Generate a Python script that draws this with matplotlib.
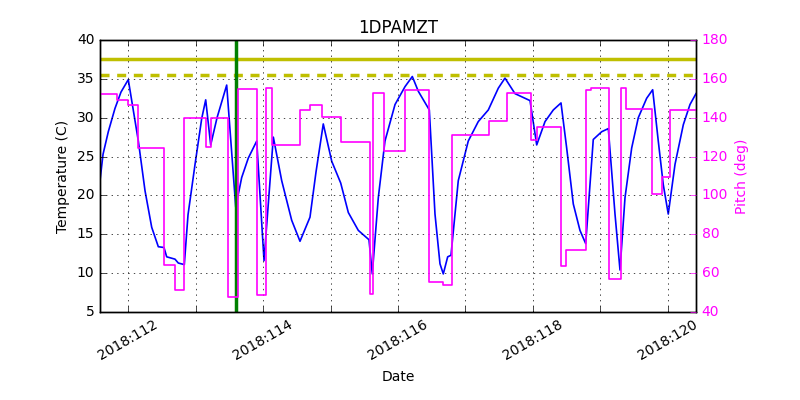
import matplotlib
matplotlib.use('Agg')
import matplotlib.pyplot as plt
from matplotlib.ticker import FixedLocator, FuncFormatter

# temperature samples (day of year 2018, deg C)
temp_days = [111.585, 111.630, 111.708, 111.807, 111.896, 112.004, 112.153, 112.252,
             112.351, 112.449, 112.533, 112.573, 112.696, 112.745, 112.834, 112.889,
             112.993, 113.092, 113.151, 113.225, 113.319, 113.462, 113.596, 113.684,
             113.782, 113.907, 114.015, 114.153, 114.277, 114.425, 114.548, 114.696,
             114.785, 114.893, 115.018, 115.151, 115.264, 115.412, 115.570, 115.619,
             115.708, 115.807, 115.956, 116.104, 116.212, 116.301, 116.464, 116.548,
             116.622, 116.671, 116.736, 116.785, 116.893, 117.041, 117.189, 117.338,
             117.486, 117.585, 117.733, 117.956, 118.055, 118.178, 118.301, 118.415,
             118.499, 118.597, 118.696, 118.781, 118.893, 119.018, 119.116, 119.215,
             119.289, 119.363, 119.462, 119.560, 119.684, 119.773, 119.856, 119.930,
             120.004, 120.104, 120.227, 120.326, 120.415]
temps = [21.9, 25.3, 28.2, 31.2, 33.3, 34.9, 27.0, 20.6,
         15.9, 13.4, 13.3, 12.1, 11.8, 11.3, 11.1, 17.5,
         24.0, 29.9, 32.3, 26.5, 30.0, 34.2, 18.5, 22.3,
         24.8, 27.0, 11.6, 27.5, 21.9, 16.8, 14.1, 17.2,
         23.0, 29.2, 24.4, 21.6, 17.8, 15.5, 14.3, 9.9,
         19.7, 27.0, 31.7, 34.0, 35.3, 33.4, 31.0, 17.6,
         11.2, 9.9, 12.1, 12.3, 21.9, 27.0, 29.5, 31.0,
         33.8, 35.1, 33.1, 32.2, 26.5, 29.5, 31.0, 31.9,
         26.1, 18.9, 15.5, 13.8, 27.2, 28.2, 28.6, 17.6,
         10.4, 19.7, 26.1, 30.0, 32.5, 33.6, 27.0, 21.4,
         17.6, 24.0, 29.1, 31.7, 33.1]

# pitch (deg), piecewise constant, starting at each day
pitch_days = [111.585, 111.833, 112.004, 112.153, 112.533, 112.696, 112.834, 113.151,
              113.225, 113.477, 113.625, 113.907, 114.040, 114.138, 114.548, 114.696,
              114.879, 115.151, 115.585, 115.634, 115.797, 116.104, 116.464, 116.662,
              116.795, 117.348, 117.610, 117.970, 118.055, 118.410, 118.489, 118.785,
              118.859, 119.126, 119.299, 119.373, 119.767, 119.907, 120.030, 120.415]
pitch = [152.1, 149.2, 146.6, 124.5, 64.0, 51.2, 140.1, 124.8,
         140.1, 47.8, 154.8, 48.7, 155.1, 126.2, 144.1, 146.6,
         140.6, 127.5, 49.5, 152.9, 122.8, 154.3, 55.5, 53.8,
         130.9, 138.4, 152.6, 128.7, 135.2, 63.5, 71.7, 154.3,
         155.1, 57.2, 155.1, 144.6, 100.6, 109.5, 144.1, 144.1]

planning_limit = 37.5
caution_limit = 35.5
now_day = 113.593

plt.style.use('classic')
plt.rcParams['figure.facecolor'] = 'white'
plt.rcParams['savefig.facecolor'] = 'white'

fig = plt.figure(figsize=(8, 4), dpi=100)
ax1 = fig.add_axes([0.125, 0.22, 0.745, 0.68])
ax1.plot(temp_days, temps, color='b', lw=1.2)
ax1.axhline(planning_limit, color='y', lw=2.5)
ax1.axhline(caution_limit, color='y', lw=2.5, linestyle=(0, (6.5, 5.5)))
ax1.axvline(now_day, color='g', lw=2.5)
ax1.set_xlim(111.585, 120.415)
ax1.set_ylim(5, 40)
ax1.set_yticks(range(5, 41, 5))
ax1.grid(True)
ax1.xaxis.set_major_locator(FixedLocator(range(112, 121)))
ax1.xaxis.set_major_formatter(FuncFormatter(
    lambda v, p: '2018:%03d' % round(v) if round(v) % 2 == 0 else ''))
for lbl in ax1.get_xticklabels():
    lbl.set_rotation(30)
    lbl.set_ha('center')
ax1.tick_params(labelsize=10)
ax1.set_xlabel('Date', fontsize=10)
ax1.set_ylabel('Temperature (C)', fontsize=10)
ax1.set_title('1DPAMZT', fontsize=12)

ax2 = ax1.twinx()
ax2.step(pitch_days, pitch, where='post', color='magenta', lw=1.2)
ax2.set_ylim(40, 180)
ax2.set_yticks(range(40, 181, 20))
ax2.set_xlim(111.585, 120.415)
ax2.tick_params(labelsize=10, colors='magenta')
ax2.set_ylabel('Pitch (deg)', color='magenta', fontsize=10)

fig.savefig('out.png', dpi=100)
